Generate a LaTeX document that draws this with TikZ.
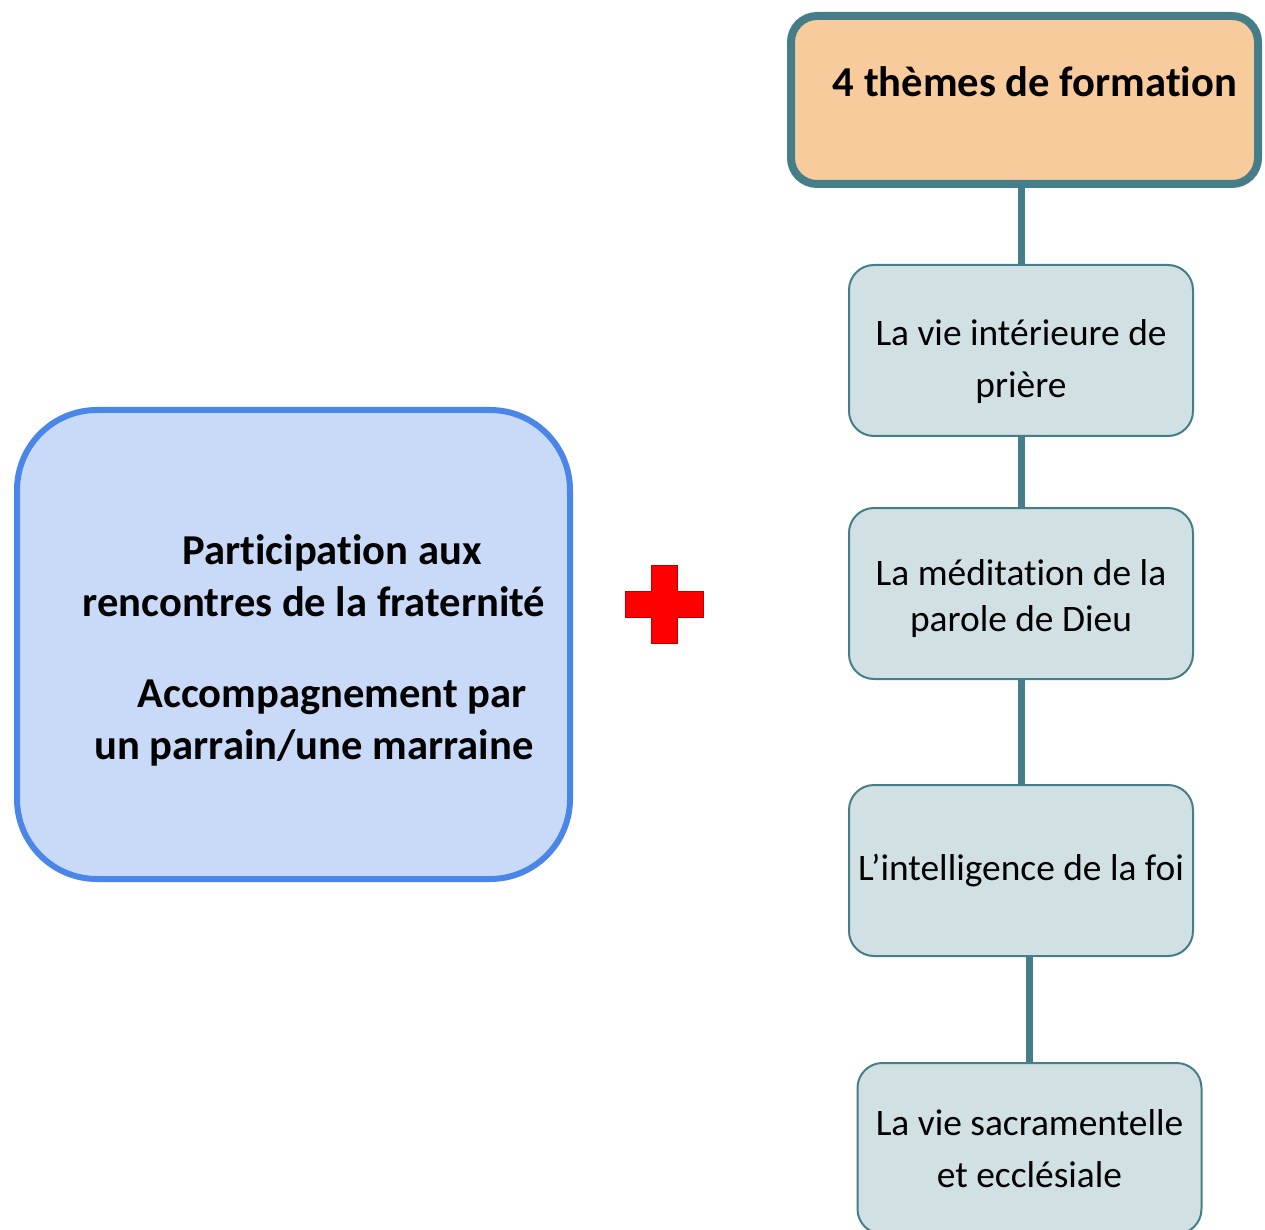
\documentclass[tikz,border=0pt]{standalone}
\usepackage{fontspec}
\setmainfont[Ligatures=NoCommon]{Carlito}
\usetikzlibrary{positioning}
\definecolor{tealline}{HTML}{457E89}
\definecolor{titlefill}{HTML}{F8CB9C}
\definecolor{themefill}{HTML}{D0E0E3}
\definecolor{blueline}{HTML}{4A86E8}
\definecolor{bluefill}{HTML}{C9DAF8}
\tikzset {
  % orange heading box
  title/.style = {draw=tealline, line width=4pt, fill=titlefill, rounded corners=13pt,
    minimum width=233.5pt, minimum height=84pt, inner sep=0pt},
  % the four themes
  theme/.style = {draw=tealline, line width=1pt, fill=themefill, rounded corners=12.5pt,
    minimum width=172pt, minimum height=85.5pt, inner sep=0pt, align=center,
    font=\fontsize{18.7}{26}\selectfont},
  % left box
  group/.style = {draw=blueline, line width=3pt, fill=bluefill, rounded corners=40pt,
    minimum width=276.5pt, minimum height=234.5pt, inner sep=0pt},
  bigtext/.style = {font=\fontsize{21.3}{26}\selectfont\bfseries, align=center, inner sep=0pt},
  link/.style = {tealline, line width=3.5pt},
}

\begin{document}
\begin{tikzpicture}[x=0.5pt, y=-0.5pt]
  \useasboundingbox (0,0) rectangle (1265,1230);

  % left part
  \node[group] (meetings) at (293.5,644.5) {};
  \node[bigtext] (meetingstext) at (314,650) {\hspace*{18pt}Participation aux\\
    rencontres de la fraternité\\[19.5pt]
    \hspace*{18pt}Accompagnement par\\
    un parrain/une marraine};

  % plus sign
  \fill[red, draw=red!75!black, line width=0.5pt]
    (651,565) -- (677,565) -- (677,591) -- (703,591) -- (703,617) -- (677,617)
    -- (677,643) -- (651,643) -- (651,617) -- (625,617) -- (625,591) -- (651,591) -- cycle;

  % right part
  \node[title] (themes) at (1024.5,100) {};
  \node[bigtext] (themestitle) at (1035,82) {4 thèmes de formation};
  \node[theme] (prayer) at (1021,350.5) {\rule{0pt}{24pt}La vie intérieure de\\prière};
  \node[theme] (word) at (1021,593.5) {\rule{0pt}{18pt}La méditation de la\\[-3pt]parole de Dieu};
  \node[theme] (faith) at (1021,870.5) {L’intelligence de la foi};
  \node[theme] (sacraments) at (1029.5,1148.5) {La vie sacramentelle\\et ecclésiale};

  \draw[link] (prayer.north |- themes.south) -- (prayer.north);
  \draw[link] (prayer.south) -- (word.north);
  \draw[link] (word.south) -- (faith.north);
  \draw[link] (sacraments.north |- faith.south) -- (sacraments.north);
\end{tikzpicture}
\end{document}
